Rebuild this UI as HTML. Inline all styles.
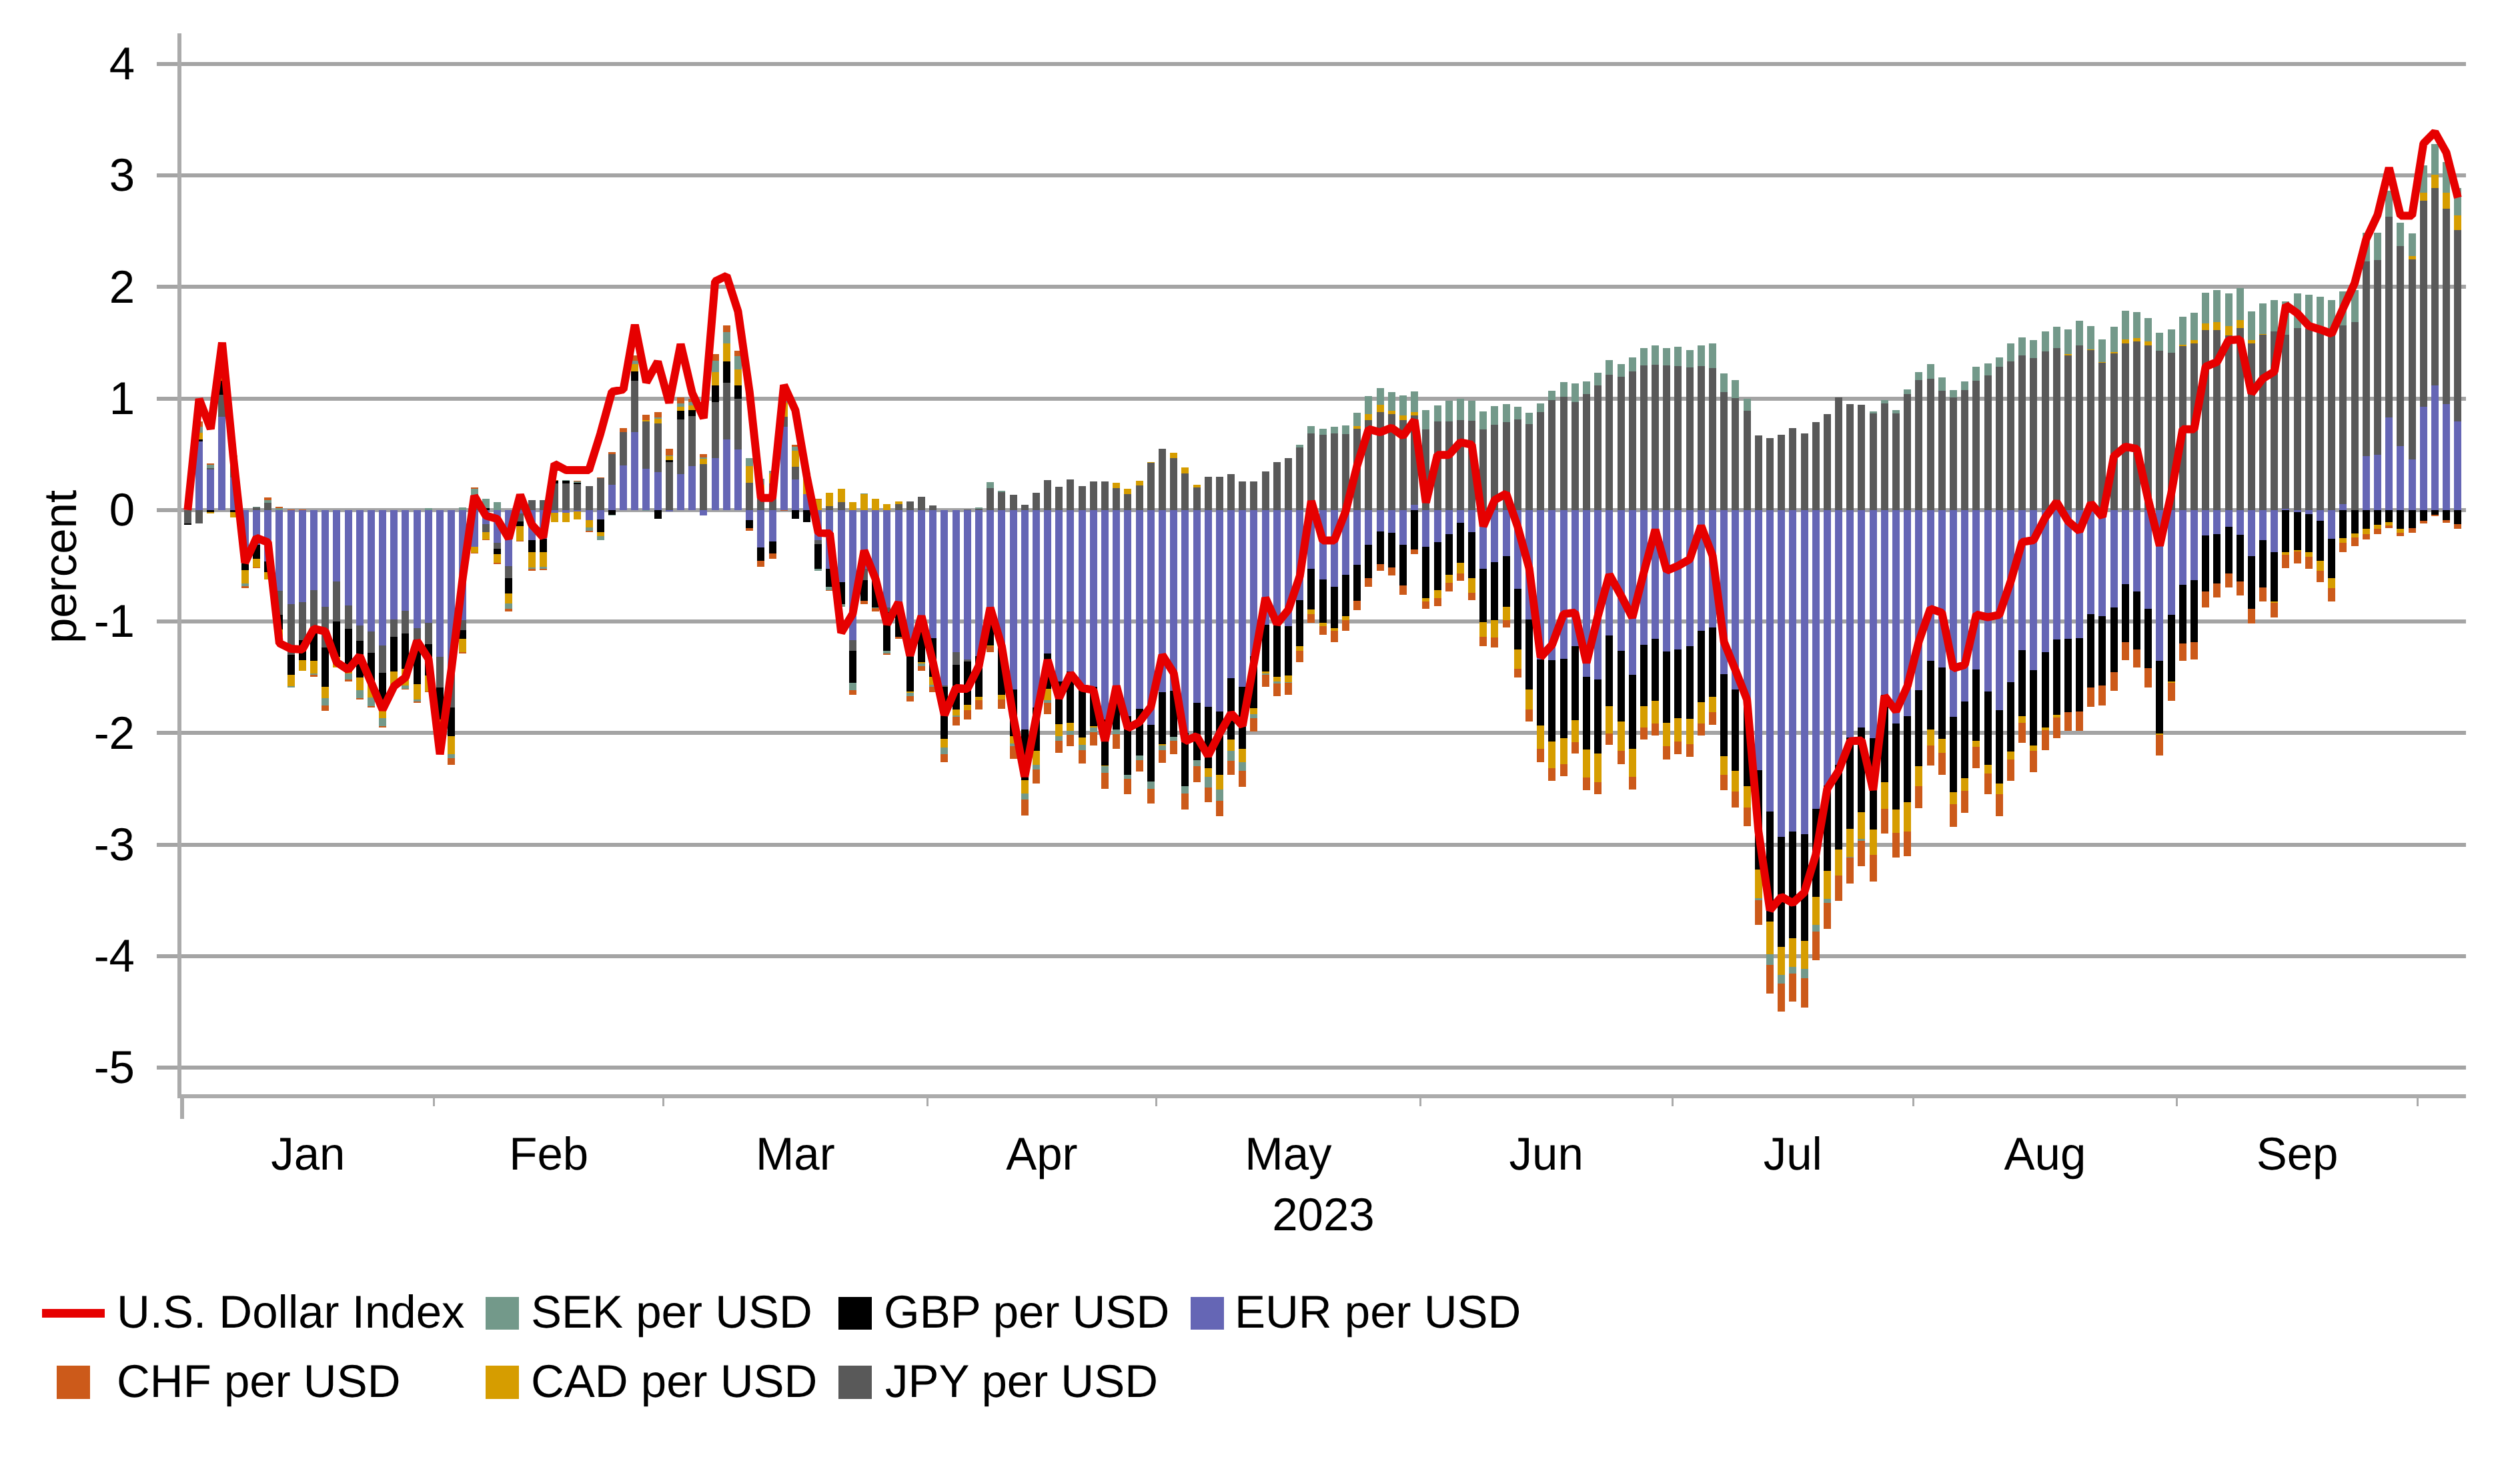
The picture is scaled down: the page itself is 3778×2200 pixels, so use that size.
<!DOCTYPE html>
<html lang="en"><head><meta charset="utf-8"><title>U.S. Dollar Index contributions, 2023</title>
<style>html,body{margin:0;padding:0;background:#fff}svg{display:block}</style></head>
<body>
<svg width="3778" height="2200" viewBox="0 0 3778 2200" shape-rendering="crispEdges">
<rect width="3778" height="2200" fill="#fff"/>
<g stroke="#a4a4a4" stroke-width="6">
<line x1="235" x2="3697" y1="1601.1" y2="1601.1"/>
<line x1="235" x2="3697" y1="1433.8" y2="1433.8"/>
<line x1="235" x2="3697" y1="1266.6" y2="1266.6"/>
<line x1="235" x2="3697" y1="1099.3" y2="1099.3"/>
<line x1="235" x2="3697" y1="932.1" y2="932.1"/>
<line x1="235" x2="3697" y1="764.8" y2="764.8"/>
<line x1="235" x2="3697" y1="597.5" y2="597.5"/>
<line x1="235" x2="3697" y1="430.3" y2="430.3"/>
<line x1="235" x2="3697" y1="263.0" y2="263.0"/>
<line x1="235" x2="3697" y1="95.8" y2="95.8"/>
</g>
<g stroke="#ababab" stroke-width="6">
<line x1="269" x2="269" y1="50" y2="1646.9"/>
<line x1="266" x2="3697" y1="1643.9" y2="1643.9"/>
</g>
<line x1="273" x2="273" y1="1646" y2="1678" stroke="#ababab" stroke-width="6"/>
<g stroke="#ababab" stroke-width="3">
<line x1="650.9" x2="650.9" y1="1646" y2="1659"/>
<line x1="994.6" x2="994.6" y1="1646" y2="1659"/>
<line x1="1390.0" x2="1390.0" y1="1646" y2="1659"/>
<line x1="1733.8" x2="1733.8" y1="1646" y2="1659"/>
<line x1="2129.1" x2="2129.1" y1="1646" y2="1659"/>
<line x1="2507.3" x2="2507.3" y1="1646" y2="1659"/>
<line x1="2868.2" x2="2868.2" y1="1646" y2="1659"/>
<line x1="3263.6" x2="3263.6" y1="1646" y2="1659"/>
<line x1="3624.6" x2="3624.6" y1="1646" y2="1659"/>
</g>
<g fill="#6566b5">
<rect x="293" y="662" width="11" height="103"/>
<rect x="310" y="704" width="11" height="61"/>
<rect x="327" y="625" width="11" height="140"/>
<rect x="345" y="716" width="11" height="49"/>
<rect x="362" y="765" width="11" height="80"/>
<rect x="379" y="765" width="11" height="52"/>
<rect x="396" y="765" width="11" height="77"/>
<rect x="413" y="765" width="11" height="121"/>
<rect x="431" y="765" width="11" height="141"/>
<rect x="448" y="765" width="11" height="138"/>
<rect x="465" y="765" width="11" height="120"/>
<rect x="482" y="765" width="11" height="145"/>
<rect x="499" y="765" width="11" height="107"/>
<rect x="517" y="765" width="11" height="143"/>
<rect x="534" y="765" width="11" height="173"/>
<rect x="551" y="765" width="11" height="182"/>
<rect x="568" y="765" width="11" height="203"/>
<rect x="585" y="765" width="11" height="164"/>
<rect x="602" y="765" width="11" height="151"/>
<rect x="620" y="765" width="11" height="177"/>
<rect x="637" y="765" width="11" height="169"/>
<rect x="654" y="765" width="11" height="220"/>
<rect x="671" y="765" width="11" height="235"/>
<rect x="688" y="765" width="11" height="165"/>
<rect x="706" y="765" width="11" height="55"/>
<rect x="723" y="765" width="11" height="21"/>
<rect x="740" y="765" width="11" height="49"/>
<rect x="757" y="765" width="11" height="84"/>
<rect x="774" y="765" width="11" height="5"/>
<rect x="792" y="765" width="11" height="45"/>
<rect x="809" y="765" width="11" height="43"/>
<rect x="826" y="765" width="11" height="4"/>
<rect x="843" y="765" width="11" height="4"/>
<rect x="860" y="765" width="11" height="2"/>
<rect x="878" y="765" width="11" height="15"/>
<rect x="895" y="765" width="11" height="14"/>
<rect x="912" y="727" width="11" height="38"/>
<rect x="929" y="698" width="11" height="67"/>
<rect x="946" y="648" width="11" height="117"/>
<rect x="963" y="703" width="11" height="62"/>
<rect x="981" y="708" width="11" height="57"/>
<rect x="998" y="765" width="11" height="2"/>
<rect x="1015" y="711" width="11" height="54"/>
<rect x="1032" y="699" width="11" height="66"/>
<rect x="1049" y="765" width="11" height="8"/>
<rect x="1067" y="687" width="11" height="78"/>
<rect x="1084" y="659" width="11" height="106"/>
<rect x="1101" y="674" width="11" height="91"/>
<rect x="1118" y="765" width="11" height="15"/>
<rect x="1135" y="765" width="11" height="56"/>
<rect x="1153" y="765" width="11" height="47"/>
<rect x="1170" y="640" width="11" height="125"/>
<rect x="1187" y="719" width="11" height="46"/>
<rect x="1204" y="741" width="11" height="24"/>
<rect x="1221" y="765" width="11" height="45"/>
<rect x="1238" y="765" width="11" height="88"/>
<rect x="1256" y="765" width="11" height="108"/>
<rect x="1273" y="765" width="11" height="195"/>
<rect x="1290" y="765" width="11" height="88"/>
<rect x="1307" y="765" width="11" height="104"/>
<rect x="1324" y="765" width="11" height="146"/>
<rect x="1342" y="765" width="11" height="137"/>
<rect x="1359" y="765" width="11" height="214"/>
<rect x="1376" y="765" width="11" height="172"/>
<rect x="1393" y="765" width="11" height="192"/>
<rect x="1410" y="765" width="11" height="263"/>
<rect x="1428" y="765" width="11" height="213"/>
<rect x="1445" y="765" width="11" height="224"/>
<rect x="1462" y="765" width="11" height="219"/>
<rect x="1479" y="765" width="11" height="146"/>
<rect x="1496" y="765" width="11" height="207"/>
<rect x="1514" y="765" width="11" height="269"/>
<rect x="1531" y="765" width="11" height="329"/>
<rect x="1548" y="765" width="11" height="296"/>
<rect x="1565" y="765" width="11" height="215"/>
<rect x="1582" y="765" width="11" height="257"/>
<rect x="1599" y="765" width="11" height="242"/>
<rect x="1617" y="765" width="11" height="267"/>
<rect x="1634" y="765" width="11" height="265"/>
<rect x="1651" y="765" width="11" height="314"/>
<rect x="1668" y="765" width="11" height="264"/>
<rect x="1685" y="765" width="11" height="309"/>
<rect x="1703" y="765" width="11" height="298"/>
<rect x="1720" y="765" width="11" height="322"/>
<rect x="1737" y="765" width="11" height="273"/>
<rect x="1754" y="765" width="11" height="271"/>
<rect x="1771" y="765" width="11" height="334"/>
<rect x="1789" y="765" width="11" height="289"/>
<rect x="1806" y="765" width="11" height="295"/>
<rect x="1823" y="765" width="11" height="302"/>
<rect x="1840" y="765" width="11" height="252"/>
<rect x="1857" y="765" width="11" height="265"/>
<rect x="1874" y="765" width="11" height="219"/>
<rect x="1892" y="765" width="11" height="172"/>
<rect x="1909" y="765" width="11" height="173"/>
<rect x="1926" y="765" width="11" height="174"/>
<rect x="1943" y="765" width="11" height="135"/>
<rect x="1960" y="765" width="11" height="88"/>
<rect x="1978" y="765" width="11" height="104"/>
<rect x="1995" y="765" width="11" height="115"/>
<rect x="2012" y="765" width="11" height="97"/>
<rect x="2029" y="765" width="11" height="82"/>
<rect x="2046" y="765" width="11" height="52"/>
<rect x="2064" y="765" width="11" height="32"/>
<rect x="2081" y="765" width="11" height="34"/>
<rect x="2098" y="765" width="11" height="52"/>
<rect x="2115" y="757" width="11" height="8"/>
<rect x="2132" y="765" width="11" height="55"/>
<rect x="2150" y="765" width="11" height="48"/>
<rect x="2167" y="765" width="11" height="36"/>
<rect x="2184" y="765" width="11" height="19"/>
<rect x="2201" y="765" width="11" height="33"/>
<rect x="2218" y="765" width="11" height="88"/>
<rect x="2235" y="765" width="11" height="78"/>
<rect x="2253" y="765" width="11" height="69"/>
<rect x="2270" y="765" width="11" height="118"/>
<rect x="2287" y="765" width="11" height="164"/>
<rect x="2304" y="765" width="11" height="224"/>
<rect x="2321" y="765" width="11" height="225"/>
<rect x="2339" y="765" width="11" height="223"/>
<rect x="2356" y="765" width="11" height="204"/>
<rect x="2373" y="765" width="11" height="250"/>
<rect x="2390" y="765" width="11" height="254"/>
<rect x="2407" y="765" width="11" height="188"/>
<rect x="2425" y="765" width="11" height="211"/>
<rect x="2442" y="765" width="11" height="247"/>
<rect x="2459" y="765" width="11" height="202"/>
<rect x="2476" y="765" width="11" height="193"/>
<rect x="2493" y="765" width="11" height="212"/>
<rect x="2510" y="765" width="11" height="209"/>
<rect x="2528" y="765" width="11" height="204"/>
<rect x="2545" y="765" width="11" height="181"/>
<rect x="2562" y="765" width="11" height="176"/>
<rect x="2579" y="765" width="11" height="246"/>
<rect x="2596" y="765" width="11" height="269"/>
<rect x="2614" y="765" width="11" height="291"/>
<rect x="2631" y="765" width="11" height="390"/>
<rect x="2648" y="765" width="11" height="452"/>
<rect x="2665" y="765" width="11" height="490"/>
<rect x="2682" y="765" width="11" height="482"/>
<rect x="2700" y="765" width="11" height="486"/>
<rect x="2717" y="765" width="11" height="448"/>
<rect x="2734" y="765" width="11" height="413"/>
<rect x="2751" y="765" width="11" height="382"/>
<rect x="2768" y="765" width="11" height="341"/>
<rect x="2785" y="765" width="11" height="326"/>
<rect x="2803" y="765" width="11" height="342"/>
<rect x="2820" y="765" width="11" height="277"/>
<rect x="2837" y="765" width="11" height="320"/>
<rect x="2854" y="765" width="11" height="309"/>
<rect x="2871" y="765" width="11" height="270"/>
<rect x="2889" y="765" width="11" height="226"/>
<rect x="2906" y="765" width="11" height="236"/>
<rect x="2923" y="765" width="11" height="310"/>
<rect x="2940" y="765" width="11" height="287"/>
<rect x="2957" y="765" width="11" height="239"/>
<rect x="2975" y="765" width="11" height="272"/>
<rect x="2992" y="765" width="11" height="300"/>
<rect x="3009" y="765" width="11" height="258"/>
<rect x="3026" y="765" width="11" height="210"/>
<rect x="3043" y="765" width="11" height="240"/>
<rect x="3061" y="765" width="11" height="213"/>
<rect x="3078" y="765" width="11" height="194"/>
<rect x="3095" y="765" width="11" height="193"/>
<rect x="3112" y="765" width="11" height="192"/>
<rect x="3129" y="765" width="11" height="156"/>
<rect x="3146" y="765" width="11" height="159"/>
<rect x="3164" y="765" width="11" height="146"/>
<rect x="3181" y="765" width="11" height="111"/>
<rect x="3198" y="765" width="11" height="122"/>
<rect x="3215" y="765" width="11" height="148"/>
<rect x="3232" y="765" width="11" height="226"/>
<rect x="3250" y="765" width="11" height="157"/>
<rect x="3267" y="765" width="11" height="112"/>
<rect x="3284" y="765" width="11" height="105"/>
<rect x="3301" y="765" width="11" height="38"/>
<rect x="3318" y="765" width="11" height="36"/>
<rect x="3336" y="765" width="11" height="25"/>
<rect x="3353" y="765" width="11" height="37"/>
<rect x="3370" y="765" width="11" height="69"/>
<rect x="3387" y="765" width="11" height="45"/>
<rect x="3404" y="765" width="11" height="63"/>
<rect x="3421" y="763" width="11" height="2"/>
<rect x="3439" y="765" width="11" height="3"/>
<rect x="3456" y="765" width="11" height="6"/>
<rect x="3473" y="765" width="11" height="16"/>
<rect x="3490" y="765" width="11" height="43"/>
<rect x="3507" y="756" width="11" height="9"/>
<rect x="3542" y="684" width="11" height="81"/>
<rect x="3559" y="682" width="11" height="83"/>
<rect x="3576" y="626" width="11" height="139"/>
<rect x="3593" y="669" width="11" height="96"/>
<rect x="3611" y="689" width="11" height="76"/>
<rect x="3628" y="610" width="11" height="155"/>
<rect x="3645" y="578" width="11" height="187"/>
<rect x="3662" y="606" width="11" height="159"/>
<rect x="3679" y="632" width="11" height="133"/>
</g>
<g fill="#595959">
<rect x="276" y="765" width="11" height="20"/>
<rect x="293" y="765" width="11" height="20"/>
<rect x="310" y="702" width="11" height="2"/>
<rect x="327" y="592" width="11" height="33"/>
<rect x="345" y="698" width="11" height="18"/>
<rect x="379" y="761" width="11" height="4"/>
<rect x="396" y="754" width="11" height="11"/>
<rect x="413" y="886" width="11" height="36"/>
<rect x="431" y="906" width="11" height="76"/>
<rect x="448" y="903" width="11" height="57"/>
<rect x="465" y="885" width="11" height="64"/>
<rect x="482" y="910" width="11" height="61"/>
<rect x="499" y="872" width="11" height="60"/>
<rect x="517" y="908" width="11" height="35"/>
<rect x="534" y="938" width="11" height="23"/>
<rect x="551" y="947" width="11" height="32"/>
<rect x="568" y="968" width="11" height="41"/>
<rect x="585" y="929" width="11" height="26"/>
<rect x="602" y="916" width="11" height="34"/>
<rect x="620" y="942" width="11" height="17"/>
<rect x="637" y="934" width="11" height="32"/>
<rect x="654" y="985" width="11" height="46"/>
<rect x="671" y="1000" width="11" height="61"/>
<rect x="688" y="930" width="11" height="15"/>
<rect x="706" y="743" width="11" height="22"/>
<rect x="723" y="786" width="11" height="12"/>
<rect x="740" y="814" width="11" height="9"/>
<rect x="757" y="849" width="11" height="18"/>
<rect x="774" y="756" width="11" height="9"/>
<rect x="774" y="770" width="11" height="12"/>
<rect x="792" y="750" width="11" height="15"/>
<rect x="809" y="750" width="11" height="15"/>
<rect x="826" y="725" width="11" height="40"/>
<rect x="843" y="725" width="11" height="40"/>
<rect x="860" y="726" width="11" height="39"/>
<rect x="878" y="729" width="11" height="36"/>
<rect x="895" y="717" width="11" height="48"/>
<rect x="912" y="681" width="11" height="46"/>
<rect x="929" y="648" width="11" height="50"/>
<rect x="946" y="571" width="11" height="77"/>
<rect x="963" y="632" width="11" height="71"/>
<rect x="981" y="635" width="11" height="73"/>
<rect x="998" y="693" width="11" height="72"/>
<rect x="1015" y="629" width="11" height="82"/>
<rect x="1032" y="624" width="11" height="75"/>
<rect x="1049" y="696" width="11" height="69"/>
<rect x="1067" y="603" width="11" height="84"/>
<rect x="1084" y="574" width="11" height="85"/>
<rect x="1101" y="598" width="11" height="76"/>
<rect x="1118" y="724" width="11" height="41"/>
<rect x="1135" y="737" width="11" height="28"/>
<rect x="1153" y="725" width="11" height="40"/>
<rect x="1170" y="625" width="11" height="15"/>
<rect x="1187" y="700" width="11" height="19"/>
<rect x="1221" y="810" width="11" height="6"/>
<rect x="1238" y="759" width="11" height="6"/>
<rect x="1256" y="753" width="11" height="12"/>
<rect x="1273" y="960" width="11" height="16"/>
<rect x="1290" y="853" width="11" height="17"/>
<rect x="1324" y="911" width="11" height="7"/>
<rect x="1342" y="756" width="11" height="9"/>
<rect x="1359" y="752" width="11" height="13"/>
<rect x="1376" y="745" width="11" height="20"/>
<rect x="1393" y="758" width="11" height="7"/>
<rect x="1410" y="1028" width="11" height="2"/>
<rect x="1428" y="978" width="11" height="19"/>
<rect x="1445" y="764" width="11" height="1"/>
<rect x="1445" y="989" width="11" height="3"/>
<rect x="1462" y="763" width="11" height="2"/>
<rect x="1479" y="732" width="11" height="33"/>
<rect x="1496" y="738" width="11" height="27"/>
<rect x="1514" y="742" width="11" height="23"/>
<rect x="1531" y="757" width="11" height="8"/>
<rect x="1548" y="739" width="11" height="26"/>
<rect x="1565" y="720" width="11" height="45"/>
<rect x="1582" y="730" width="11" height="35"/>
<rect x="1599" y="719" width="11" height="46"/>
<rect x="1617" y="729" width="11" height="36"/>
<rect x="1634" y="722" width="11" height="43"/>
<rect x="1651" y="722" width="11" height="43"/>
<rect x="1668" y="732" width="11" height="33"/>
<rect x="1685" y="741" width="11" height="24"/>
<rect x="1703" y="728" width="11" height="37"/>
<rect x="1720" y="694" width="11" height="71"/>
<rect x="1737" y="673" width="11" height="92"/>
<rect x="1754" y="687" width="11" height="78"/>
<rect x="1771" y="710" width="11" height="55"/>
<rect x="1789" y="731" width="11" height="34"/>
<rect x="1806" y="715" width="11" height="50"/>
<rect x="1823" y="715" width="11" height="50"/>
<rect x="1840" y="711" width="11" height="54"/>
<rect x="1857" y="722" width="11" height="43"/>
<rect x="1874" y="722" width="11" height="43"/>
<rect x="1892" y="707" width="11" height="58"/>
<rect x="1909" y="693" width="11" height="72"/>
<rect x="1926" y="687" width="11" height="78"/>
<rect x="1943" y="671" width="11" height="94"/>
<rect x="1960" y="650" width="11" height="115"/>
<rect x="1978" y="652" width="11" height="113"/>
<rect x="1995" y="650" width="11" height="115"/>
<rect x="2012" y="651" width="11" height="114"/>
<rect x="2029" y="643" width="11" height="122"/>
<rect x="2046" y="630" width="11" height="135"/>
<rect x="2064" y="618" width="11" height="147"/>
<rect x="2081" y="621" width="11" height="144"/>
<rect x="2098" y="630" width="11" height="135"/>
<rect x="2115" y="623" width="11" height="134"/>
<rect x="2132" y="644" width="11" height="121"/>
<rect x="2150" y="632" width="11" height="133"/>
<rect x="2167" y="632" width="11" height="133"/>
<rect x="2184" y="630" width="11" height="135"/>
<rect x="2201" y="631" width="11" height="134"/>
<rect x="2218" y="644" width="11" height="121"/>
<rect x="2235" y="637" width="11" height="128"/>
<rect x="2253" y="633" width="11" height="132"/>
<rect x="2270" y="629" width="11" height="136"/>
<rect x="2287" y="636" width="11" height="129"/>
<rect x="2304" y="618" width="11" height="147"/>
<rect x="2321" y="600" width="11" height="165"/>
<rect x="2339" y="595" width="11" height="170"/>
<rect x="2356" y="603" width="11" height="162"/>
<rect x="2373" y="591" width="11" height="174"/>
<rect x="2390" y="578" width="11" height="187"/>
<rect x="2407" y="562" width="11" height="203"/>
<rect x="2425" y="565" width="11" height="200"/>
<rect x="2442" y="557" width="11" height="208"/>
<rect x="2459" y="548" width="11" height="217"/>
<rect x="2476" y="547" width="11" height="218"/>
<rect x="2493" y="548" width="11" height="217"/>
<rect x="2510" y="549" width="11" height="216"/>
<rect x="2528" y="551" width="11" height="214"/>
<rect x="2545" y="549" width="11" height="216"/>
<rect x="2562" y="552" width="11" height="213"/>
<rect x="2579" y="588" width="11" height="177"/>
<rect x="2596" y="597" width="11" height="168"/>
<rect x="2614" y="616" width="11" height="149"/>
<rect x="2631" y="653" width="11" height="112"/>
<rect x="2648" y="657" width="11" height="108"/>
<rect x="2665" y="652" width="11" height="113"/>
<rect x="2682" y="642" width="11" height="123"/>
<rect x="2700" y="650" width="11" height="115"/>
<rect x="2717" y="633" width="11" height="132"/>
<rect x="2734" y="621" width="11" height="144"/>
<rect x="2751" y="596" width="11" height="169"/>
<rect x="2768" y="606" width="11" height="159"/>
<rect x="2785" y="607" width="11" height="158"/>
<rect x="2803" y="620" width="11" height="145"/>
<rect x="2820" y="605" width="11" height="160"/>
<rect x="2837" y="620" width="11" height="145"/>
<rect x="2854" y="591" width="11" height="174"/>
<rect x="2871" y="570" width="11" height="195"/>
<rect x="2889" y="568" width="11" height="197"/>
<rect x="2906" y="586" width="11" height="179"/>
<rect x="2923" y="596" width="11" height="169"/>
<rect x="2940" y="585" width="11" height="180"/>
<rect x="2957" y="571" width="11" height="194"/>
<rect x="2975" y="563" width="11" height="202"/>
<rect x="2992" y="550" width="11" height="215"/>
<rect x="3009" y="542" width="11" height="223"/>
<rect x="3026" y="533" width="11" height="232"/>
<rect x="3043" y="537" width="11" height="228"/>
<rect x="3061" y="527" width="11" height="238"/>
<rect x="3078" y="522" width="11" height="243"/>
<rect x="3095" y="533" width="11" height="232"/>
<rect x="3112" y="518" width="11" height="247"/>
<rect x="3129" y="525" width="11" height="240"/>
<rect x="3146" y="544" width="11" height="221"/>
<rect x="3164" y="530" width="11" height="235"/>
<rect x="3181" y="515" width="11" height="250"/>
<rect x="3198" y="512" width="11" height="253"/>
<rect x="3215" y="518" width="11" height="247"/>
<rect x="3232" y="526" width="11" height="239"/>
<rect x="3250" y="529" width="11" height="236"/>
<rect x="3267" y="519" width="11" height="246"/>
<rect x="3284" y="515" width="11" height="250"/>
<rect x="3301" y="495" width="11" height="270"/>
<rect x="3318" y="495" width="11" height="270"/>
<rect x="3336" y="503" width="11" height="262"/>
<rect x="3353" y="492" width="11" height="273"/>
<rect x="3370" y="515" width="11" height="250"/>
<rect x="3387" y="502" width="11" height="263"/>
<rect x="3404" y="497" width="11" height="268"/>
<rect x="3421" y="502" width="11" height="261"/>
<rect x="3439" y="492" width="11" height="273"/>
<rect x="3456" y="493" width="11" height="272"/>
<rect x="3473" y="497" width="11" height="268"/>
<rect x="3490" y="499" width="11" height="266"/>
<rect x="3507" y="488" width="11" height="268"/>
<rect x="3525" y="483" width="11" height="282"/>
<rect x="3542" y="392" width="11" height="292"/>
<rect x="3559" y="390" width="11" height="292"/>
<rect x="3576" y="325" width="11" height="301"/>
<rect x="3593" y="369" width="11" height="300"/>
<rect x="3611" y="389" width="11" height="300"/>
<rect x="3628" y="301" width="11" height="309"/>
<rect x="3645" y="282" width="11" height="296"/>
<rect x="3662" y="313" width="11" height="293"/>
<rect x="3679" y="345" width="11" height="287"/>
</g>
<g fill="#000000">
<rect x="276" y="785" width="11" height="2"/>
<rect x="293" y="659" width="11" height="3"/>
<rect x="310" y="765" width="11" height="3"/>
<rect x="327" y="571" width="11" height="21"/>
<rect x="345" y="765" width="11" height="3"/>
<rect x="362" y="845" width="11" height="10"/>
<rect x="379" y="817" width="11" height="21"/>
<rect x="396" y="842" width="11" height="16"/>
<rect x="413" y="922" width="11" height="22"/>
<rect x="431" y="982" width="11" height="30"/>
<rect x="448" y="960" width="11" height="30"/>
<rect x="465" y="949" width="11" height="42"/>
<rect x="482" y="971" width="11" height="59"/>
<rect x="499" y="932" width="11" height="53"/>
<rect x="517" y="943" width="11" height="61"/>
<rect x="534" y="961" width="11" height="55"/>
<rect x="551" y="979" width="11" height="47"/>
<rect x="568" y="1009" width="11" height="55"/>
<rect x="585" y="955" width="11" height="52"/>
<rect x="602" y="950" width="11" height="53"/>
<rect x="620" y="959" width="11" height="67"/>
<rect x="637" y="966" width="11" height="47"/>
<rect x="654" y="1031" width="11" height="48"/>
<rect x="671" y="1061" width="11" height="43"/>
<rect x="688" y="945" width="11" height="13"/>
<rect x="723" y="762" width="11" height="3"/>
<rect x="740" y="823" width="11" height="8"/>
<rect x="757" y="867" width="11" height="23"/>
<rect x="774" y="782" width="11" height="7"/>
<rect x="792" y="810" width="11" height="18"/>
<rect x="809" y="808" width="11" height="20"/>
<rect x="826" y="721" width="11" height="4"/>
<rect x="843" y="721" width="11" height="4"/>
<rect x="860" y="724" width="11" height="2"/>
<rect x="895" y="779" width="11" height="19"/>
<rect x="912" y="765" width="11" height="7"/>
<rect x="946" y="557" width="11" height="14"/>
<rect x="981" y="765" width="11" height="13"/>
<rect x="998" y="690" width="11" height="3"/>
<rect x="1015" y="616" width="11" height="13"/>
<rect x="1032" y="615" width="11" height="9"/>
<rect x="1067" y="578" width="11" height="25"/>
<rect x="1084" y="542" width="11" height="32"/>
<rect x="1101" y="578" width="11" height="20"/>
<rect x="1118" y="780" width="11" height="12"/>
<rect x="1135" y="821" width="11" height="20"/>
<rect x="1153" y="812" width="11" height="18"/>
<rect x="1187" y="765" width="11" height="13"/>
<rect x="1204" y="765" width="11" height="18"/>
<rect x="1221" y="816" width="11" height="37"/>
<rect x="1238" y="853" width="11" height="27"/>
<rect x="1256" y="873" width="11" height="33"/>
<rect x="1273" y="976" width="11" height="48"/>
<rect x="1290" y="870" width="11" height="31"/>
<rect x="1307" y="869" width="11" height="42"/>
<rect x="1324" y="918" width="11" height="58"/>
<rect x="1342" y="902" width="11" height="53"/>
<rect x="1359" y="979" width="11" height="58"/>
<rect x="1376" y="937" width="11" height="56"/>
<rect x="1393" y="957" width="11" height="58"/>
<rect x="1410" y="1030" width="11" height="78"/>
<rect x="1428" y="997" width="11" height="67"/>
<rect x="1445" y="992" width="11" height="65"/>
<rect x="1462" y="984" width="11" height="61"/>
<rect x="1479" y="911" width="11" height="57"/>
<rect x="1496" y="972" width="11" height="70"/>
<rect x="1514" y="1034" width="11" height="70"/>
<rect x="1531" y="1094" width="11" height="76"/>
<rect x="1548" y="1061" width="11" height="65"/>
<rect x="1565" y="980" width="11" height="53"/>
<rect x="1582" y="1022" width="11" height="64"/>
<rect x="1599" y="1007" width="11" height="77"/>
<rect x="1617" y="1032" width="11" height="74"/>
<rect x="1634" y="1030" width="11" height="59"/>
<rect x="1651" y="1079" width="11" height="69"/>
<rect x="1668" y="1029" width="11" height="65"/>
<rect x="1685" y="1074" width="11" height="88"/>
<rect x="1703" y="1063" width="11" height="70"/>
<rect x="1720" y="1087" width="11" height="85"/>
<rect x="1737" y="1038" width="11" height="78"/>
<rect x="1754" y="1036" width="11" height="69"/>
<rect x="1771" y="1099" width="11" height="80"/>
<rect x="1789" y="1054" width="11" height="86"/>
<rect x="1806" y="1060" width="11" height="92"/>
<rect x="1823" y="1067" width="11" height="95"/>
<rect x="1840" y="1017" width="11" height="92"/>
<rect x="1857" y="1030" width="11" height="93"/>
<rect x="1874" y="984" width="11" height="78"/>
<rect x="1892" y="937" width="11" height="70"/>
<rect x="1909" y="938" width="11" height="77"/>
<rect x="1926" y="939" width="11" height="74"/>
<rect x="1943" y="900" width="11" height="69"/>
<rect x="1960" y="853" width="11" height="61"/>
<rect x="1978" y="869" width="11" height="65"/>
<rect x="1995" y="880" width="11" height="62"/>
<rect x="2012" y="862" width="11" height="62"/>
<rect x="2029" y="847" width="11" height="54"/>
<rect x="2046" y="817" width="11" height="50"/>
<rect x="2064" y="797" width="11" height="49"/>
<rect x="2081" y="799" width="11" height="52"/>
<rect x="2098" y="817" width="11" height="61"/>
<rect x="2115" y="765" width="11" height="59"/>
<rect x="2132" y="820" width="11" height="77"/>
<rect x="2150" y="813" width="11" height="72"/>
<rect x="2167" y="801" width="11" height="61"/>
<rect x="2184" y="784" width="11" height="60"/>
<rect x="2201" y="798" width="11" height="69"/>
<rect x="2218" y="853" width="11" height="80"/>
<rect x="2235" y="843" width="11" height="87"/>
<rect x="2253" y="834" width="11" height="76"/>
<rect x="2270" y="883" width="11" height="91"/>
<rect x="2287" y="929" width="11" height="105"/>
<rect x="2304" y="989" width="11" height="99"/>
<rect x="2321" y="990" width="11" height="122"/>
<rect x="2339" y="988" width="11" height="119"/>
<rect x="2356" y="969" width="11" height="111"/>
<rect x="2373" y="1015" width="11" height="109"/>
<rect x="2390" y="1019" width="11" height="111"/>
<rect x="2407" y="953" width="11" height="106"/>
<rect x="2425" y="976" width="11" height="106"/>
<rect x="2442" y="1012" width="11" height="111"/>
<rect x="2459" y="967" width="11" height="92"/>
<rect x="2476" y="958" width="11" height="93"/>
<rect x="2493" y="977" width="11" height="107"/>
<rect x="2510" y="974" width="11" height="103"/>
<rect x="2528" y="969" width="11" height="109"/>
<rect x="2545" y="946" width="11" height="107"/>
<rect x="2562" y="941" width="11" height="104"/>
<rect x="2579" y="1011" width="11" height="123"/>
<rect x="2596" y="1034" width="11" height="122"/>
<rect x="2614" y="1056" width="11" height="123"/>
<rect x="2631" y="1155" width="11" height="149"/>
<rect x="2648" y="1217" width="11" height="165"/>
<rect x="2665" y="1255" width="11" height="165"/>
<rect x="2682" y="1247" width="11" height="160"/>
<rect x="2700" y="1251" width="11" height="160"/>
<rect x="2717" y="1213" width="11" height="132"/>
<rect x="2734" y="1178" width="11" height="128"/>
<rect x="2751" y="1147" width="11" height="127"/>
<rect x="2768" y="1106" width="11" height="137"/>
<rect x="2785" y="1091" width="11" height="127"/>
<rect x="2803" y="1107" width="11" height="137"/>
<rect x="2820" y="1042" width="11" height="131"/>
<rect x="2837" y="1085" width="11" height="129"/>
<rect x="2854" y="1074" width="11" height="129"/>
<rect x="2871" y="1035" width="11" height="114"/>
<rect x="2889" y="991" width="11" height="103"/>
<rect x="2906" y="1001" width="11" height="107"/>
<rect x="2923" y="1075" width="11" height="113"/>
<rect x="2940" y="1052" width="11" height="115"/>
<rect x="2957" y="1004" width="11" height="107"/>
<rect x="2975" y="1037" width="11" height="110"/>
<rect x="2992" y="1065" width="11" height="110"/>
<rect x="3009" y="1023" width="11" height="104"/>
<rect x="3026" y="975" width="11" height="99"/>
<rect x="3043" y="1005" width="11" height="113"/>
<rect x="3061" y="978" width="11" height="113"/>
<rect x="3078" y="959" width="11" height="113"/>
<rect x="3095" y="958" width="11" height="110"/>
<rect x="3112" y="957" width="11" height="110"/>
<rect x="3129" y="921" width="11" height="110"/>
<rect x="3146" y="924" width="11" height="104"/>
<rect x="3164" y="911" width="11" height="97"/>
<rect x="3181" y="876" width="11" height="87"/>
<rect x="3198" y="887" width="11" height="87"/>
<rect x="3215" y="913" width="11" height="89"/>
<rect x="3232" y="991" width="11" height="109"/>
<rect x="3250" y="922" width="11" height="100"/>
<rect x="3267" y="877" width="11" height="88"/>
<rect x="3284" y="870" width="11" height="93"/>
<rect x="3301" y="803" width="11" height="84"/>
<rect x="3318" y="801" width="11" height="74"/>
<rect x="3336" y="790" width="11" height="70"/>
<rect x="3353" y="802" width="11" height="70"/>
<rect x="3370" y="834" width="11" height="79"/>
<rect x="3387" y="810" width="11" height="71"/>
<rect x="3404" y="828" width="11" height="74"/>
<rect x="3421" y="765" width="11" height="63"/>
<rect x="3439" y="768" width="11" height="57"/>
<rect x="3456" y="771" width="11" height="57"/>
<rect x="3473" y="781" width="11" height="60"/>
<rect x="3490" y="808" width="11" height="59"/>
<rect x="3507" y="765" width="11" height="42"/>
<rect x="3525" y="765" width="11" height="35"/>
<rect x="3542" y="765" width="11" height="28"/>
<rect x="3559" y="765" width="11" height="22"/>
<rect x="3576" y="765" width="11" height="18"/>
<rect x="3593" y="765" width="11" height="28"/>
<rect x="3611" y="765" width="11" height="27"/>
<rect x="3628" y="765" width="11" height="16"/>
<rect x="3645" y="765" width="11" height="7"/>
<rect x="3662" y="765" width="11" height="15"/>
<rect x="3679" y="765" width="11" height="21"/>
</g>
<g fill="#d69d00">
<rect x="293" y="649" width="11" height="10"/>
<rect x="310" y="768" width="11" height="2"/>
<rect x="327" y="556" width="11" height="15"/>
<rect x="345" y="683" width="11" height="15"/>
<rect x="345" y="768" width="11" height="8"/>
<rect x="362" y="855" width="11" height="20"/>
<rect x="379" y="838" width="11" height="13"/>
<rect x="396" y="858" width="11" height="11"/>
<rect x="413" y="944" width="11" height="11"/>
<rect x="431" y="1012" width="11" height="17"/>
<rect x="448" y="990" width="11" height="16"/>
<rect x="465" y="991" width="11" height="19"/>
<rect x="482" y="1030" width="11" height="17"/>
<rect x="499" y="985" width="11" height="16"/>
<rect x="517" y="1004" width="11" height="6"/>
<rect x="534" y="1016" width="11" height="19"/>
<rect x="551" y="1026" width="11" height="20"/>
<rect x="568" y="1064" width="11" height="13"/>
<rect x="585" y="1007" width="11" height="22"/>
<rect x="602" y="1003" width="11" height="25"/>
<rect x="620" y="1026" width="11" height="23"/>
<rect x="637" y="1013" width="11" height="24"/>
<rect x="654" y="1079" width="11" height="20"/>
<rect x="671" y="1104" width="11" height="27"/>
<rect x="688" y="958" width="11" height="20"/>
<rect x="706" y="820" width="11" height="9"/>
<rect x="723" y="798" width="11" height="11"/>
<rect x="740" y="831" width="11" height="13"/>
<rect x="757" y="890" width="11" height="15"/>
<rect x="774" y="789" width="11" height="22"/>
<rect x="792" y="828" width="11" height="23"/>
<rect x="809" y="828" width="11" height="22"/>
<rect x="826" y="769" width="11" height="14"/>
<rect x="843" y="769" width="11" height="14"/>
<rect x="860" y="767" width="11" height="12"/>
<rect x="878" y="780" width="11" height="11"/>
<rect x="895" y="798" width="11" height="6"/>
<rect x="946" y="546" width="11" height="11"/>
<rect x="963" y="630" width="11" height="2"/>
<rect x="981" y="628" width="11" height="7"/>
<rect x="998" y="684" width="11" height="6"/>
<rect x="1015" y="610" width="11" height="6"/>
<rect x="1032" y="608" width="11" height="7"/>
<rect x="1049" y="688" width="11" height="8"/>
<rect x="1067" y="558" width="11" height="20"/>
<rect x="1084" y="515" width="11" height="27"/>
<rect x="1101" y="554" width="11" height="24"/>
<rect x="1118" y="699" width="11" height="25"/>
<rect x="1135" y="727" width="11" height="10"/>
<rect x="1153" y="710" width="11" height="15"/>
<rect x="1170" y="604" width="11" height="21"/>
<rect x="1187" y="676" width="11" height="24"/>
<rect x="1204" y="716" width="11" height="25"/>
<rect x="1221" y="749" width="11" height="16"/>
<rect x="1238" y="739" width="11" height="20"/>
<rect x="1256" y="733" width="11" height="20"/>
<rect x="1273" y="753" width="11" height="12"/>
<rect x="1290" y="741" width="11" height="24"/>
<rect x="1307" y="748" width="11" height="17"/>
<rect x="1324" y="756" width="11" height="9"/>
<rect x="1342" y="752" width="11" height="4"/>
<rect x="1359" y="1037" width="11" height="2"/>
<rect x="1376" y="993" width="11" height="2"/>
<rect x="1393" y="1015" width="11" height="12"/>
<rect x="1410" y="1108" width="11" height="13"/>
<rect x="1428" y="1064" width="11" height="9"/>
<rect x="1445" y="1057" width="11" height="8"/>
<rect x="1462" y="1045" width="11" height="5"/>
<rect x="1479" y="968" width="11" height="1"/>
<rect x="1496" y="1042" width="11" height="7"/>
<rect x="1514" y="1104" width="11" height="11"/>
<rect x="1531" y="1170" width="11" height="20"/>
<rect x="1548" y="1126" width="11" height="21"/>
<rect x="1565" y="1033" width="11" height="17"/>
<rect x="1582" y="1086" width="11" height="18"/>
<rect x="1599" y="1084" width="11" height="12"/>
<rect x="1617" y="1106" width="11" height="11"/>
<rect x="1634" y="1089" width="11" height="2"/>
<rect x="1651" y="1148" width="11" height="1"/>
<rect x="1668" y="724" width="11" height="8"/>
<rect x="1685" y="733" width="11" height="8"/>
<rect x="1703" y="721" width="11" height="7"/>
<rect x="1720" y="693" width="11" height="1"/>
<rect x="1737" y="1116" width="11" height="2"/>
<rect x="1754" y="679" width="11" height="8"/>
<rect x="1771" y="701" width="11" height="9"/>
<rect x="1789" y="727" width="11" height="4"/>
<rect x="1806" y="1152" width="11" height="13"/>
<rect x="1823" y="1162" width="11" height="22"/>
<rect x="1840" y="1109" width="11" height="17"/>
<rect x="1857" y="1123" width="11" height="20"/>
<rect x="1874" y="1062" width="11" height="9"/>
<rect x="1892" y="1007" width="11" height="3"/>
<rect x="1909" y="1015" width="11" height="7"/>
<rect x="1926" y="1013" width="11" height="10"/>
<rect x="1943" y="969" width="11" height="7"/>
<rect x="1960" y="914" width="11" height="7"/>
<rect x="1978" y="934" width="11" height="5"/>
<rect x="1995" y="942" width="11" height="4"/>
<rect x="2012" y="924" width="11" height="6"/>
<rect x="2029" y="639" width="11" height="4"/>
<rect x="2046" y="621" width="11" height="9"/>
<rect x="2064" y="607" width="11" height="11"/>
<rect x="2081" y="616" width="11" height="5"/>
<rect x="2098" y="623" width="11" height="7"/>
<rect x="2115" y="618" width="11" height="5"/>
<rect x="2132" y="897" width="11" height="5"/>
<rect x="2150" y="885" width="11" height="12"/>
<rect x="2167" y="862" width="11" height="12"/>
<rect x="2184" y="844" width="11" height="16"/>
<rect x="2201" y="867" width="11" height="22"/>
<rect x="2218" y="933" width="11" height="22"/>
<rect x="2235" y="930" width="11" height="26"/>
<rect x="2253" y="910" width="11" height="20"/>
<rect x="2270" y="974" width="11" height="29"/>
<rect x="2287" y="1034" width="11" height="30"/>
<rect x="2304" y="1088" width="11" height="35"/>
<rect x="2321" y="1112" width="11" height="40"/>
<rect x="2339" y="1107" width="11" height="39"/>
<rect x="2356" y="1080" width="11" height="33"/>
<rect x="2373" y="1124" width="11" height="42"/>
<rect x="2390" y="1130" width="11" height="43"/>
<rect x="2407" y="1059" width="11" height="41"/>
<rect x="2425" y="1082" width="11" height="44"/>
<rect x="2442" y="1123" width="11" height="42"/>
<rect x="2459" y="1059" width="11" height="32"/>
<rect x="2476" y="1051" width="11" height="34"/>
<rect x="2493" y="1084" width="11" height="35"/>
<rect x="2510" y="1077" width="11" height="35"/>
<rect x="2528" y="1078" width="11" height="38"/>
<rect x="2545" y="1053" width="11" height="32"/>
<rect x="2562" y="1045" width="11" height="23"/>
<rect x="2579" y="1134" width="11" height="28"/>
<rect x="2596" y="1156" width="11" height="31"/>
<rect x="2614" y="1179" width="11" height="32"/>
<rect x="2631" y="1304" width="11" height="43"/>
<rect x="2648" y="1382" width="11" height="49"/>
<rect x="2665" y="1420" width="11" height="42"/>
<rect x="2682" y="1407" width="11" height="43"/>
<rect x="2700" y="1411" width="11" height="42"/>
<rect x="2717" y="1345" width="11" height="42"/>
<rect x="2734" y="1306" width="11" height="42"/>
<rect x="2751" y="1274" width="11" height="39"/>
<rect x="2768" y="1243" width="11" height="42"/>
<rect x="2785" y="1218" width="11" height="40"/>
<rect x="2803" y="1244" width="11" height="38"/>
<rect x="2820" y="1173" width="11" height="40"/>
<rect x="2837" y="1214" width="11" height="35"/>
<rect x="2854" y="1203" width="11" height="44"/>
<rect x="2871" y="1149" width="11" height="30"/>
<rect x="2889" y="1094" width="11" height="24"/>
<rect x="2906" y="1108" width="11" height="21"/>
<rect x="2923" y="1188" width="11" height="18"/>
<rect x="2940" y="1167" width="11" height="19"/>
<rect x="2957" y="1111" width="11" height="9"/>
<rect x="2975" y="1147" width="11" height="13"/>
<rect x="2992" y="1175" width="11" height="16"/>
<rect x="3009" y="1127" width="11" height="12"/>
<rect x="3026" y="1074" width="11" height="10"/>
<rect x="3043" y="1118" width="11" height="8"/>
<rect x="3061" y="1091" width="11" height="4"/>
<rect x="3078" y="1072" width="11" height="4"/>
<rect x="3095" y="531" width="11" height="2"/>
<rect x="3129" y="524" width="11" height="1"/>
<rect x="3146" y="543" width="11" height="1"/>
<rect x="3164" y="528" width="11" height="2"/>
<rect x="3181" y="509" width="11" height="6"/>
<rect x="3198" y="507" width="11" height="5"/>
<rect x="3215" y="512" width="11" height="6"/>
<rect x="3232" y="1100" width="11" height="2"/>
<rect x="3250" y="1022" width="11" height="2"/>
<rect x="3267" y="517" width="11" height="2"/>
<rect x="3284" y="510" width="11" height="5"/>
<rect x="3301" y="485" width="11" height="10"/>
<rect x="3318" y="483" width="11" height="12"/>
<rect x="3336" y="489" width="11" height="14"/>
<rect x="3353" y="480" width="11" height="12"/>
<rect x="3370" y="510" width="11" height="5"/>
<rect x="3387" y="501" width="11" height="1"/>
<rect x="3404" y="902" width="11" height="2"/>
<rect x="3421" y="828" width="11" height="4"/>
<rect x="3439" y="825" width="11" height="2"/>
<rect x="3456" y="828" width="11" height="7"/>
<rect x="3473" y="841" width="11" height="15"/>
<rect x="3490" y="867" width="11" height="15"/>
<rect x="3507" y="807" width="11" height="7"/>
<rect x="3525" y="800" width="11" height="6"/>
<rect x="3542" y="793" width="11" height="8"/>
<rect x="3559" y="787" width="11" height="6"/>
<rect x="3576" y="783" width="11" height="5"/>
<rect x="3593" y="793" width="11" height="6"/>
<rect x="3611" y="384" width="11" height="5"/>
<rect x="3628" y="289" width="11" height="12"/>
<rect x="3645" y="262" width="11" height="20"/>
<rect x="3662" y="289" width="11" height="24"/>
<rect x="3679" y="323" width="11" height="22"/>
</g>
<g fill="#73998a">
<rect x="293" y="640" width="11" height="9"/>
<rect x="310" y="697" width="11" height="5"/>
<rect x="327" y="547" width="11" height="9"/>
<rect x="362" y="875" width="11" height="4"/>
<rect x="379" y="760" width="11" height="1"/>
<rect x="396" y="750" width="11" height="4"/>
<rect x="413" y="762" width="11" height="3"/>
<rect x="431" y="1029" width="11" height="2"/>
<rect x="465" y="1010" width="11" height="2"/>
<rect x="482" y="1047" width="11" height="11"/>
<rect x="517" y="1010" width="11" height="9"/>
<rect x="534" y="1035" width="11" height="12"/>
<rect x="551" y="1046" width="11" height="13"/>
<rect x="568" y="1077" width="11" height="12"/>
<rect x="585" y="1029" width="11" height="3"/>
<rect x="602" y="1028" width="11" height="5"/>
<rect x="620" y="1049" width="11" height="3"/>
<rect x="637" y="762" width="11" height="3"/>
<rect x="654" y="1099" width="11" height="5"/>
<rect x="671" y="1131" width="11" height="6"/>
<rect x="688" y="761" width="11" height="4"/>
<rect x="706" y="733" width="11" height="10"/>
<rect x="723" y="748" width="11" height="14"/>
<rect x="740" y="753" width="11" height="12"/>
<rect x="757" y="905" width="11" height="8"/>
<rect x="792" y="851" width="11" height="2"/>
<rect x="809" y="850" width="11" height="3"/>
<rect x="843" y="720" width="11" height="1"/>
<rect x="860" y="722" width="11" height="2"/>
<rect x="878" y="791" width="11" height="5"/>
<rect x="895" y="804" width="11" height="6"/>
<rect x="912" y="772" width="11" height="1"/>
<rect x="946" y="541" width="11" height="5"/>
<rect x="963" y="765" width="11" height="1"/>
<rect x="981" y="626" width="11" height="2"/>
<rect x="998" y="683" width="11" height="1"/>
<rect x="1015" y="605" width="11" height="5"/>
<rect x="1032" y="603" width="11" height="5"/>
<rect x="1049" y="686" width="11" height="2"/>
<rect x="1067" y="541" width="11" height="17"/>
<rect x="1084" y="498" width="11" height="17"/>
<rect x="1101" y="534" width="11" height="20"/>
<rect x="1118" y="687" width="11" height="12"/>
<rect x="1135" y="718" width="11" height="9"/>
<rect x="1153" y="706" width="11" height="4"/>
<rect x="1170" y="601" width="11" height="3"/>
<rect x="1187" y="670" width="11" height="6"/>
<rect x="1204" y="711" width="11" height="5"/>
<rect x="1221" y="853" width="11" height="3"/>
<rect x="1238" y="880" width="11" height="5"/>
<rect x="1256" y="906" width="11" height="4"/>
<rect x="1273" y="1024" width="11" height="11"/>
<rect x="1290" y="740" width="11" height="1"/>
<rect x="1307" y="911" width="11" height="1"/>
<rect x="1324" y="976" width="11" height="4"/>
<rect x="1359" y="1039" width="11" height="5"/>
<rect x="1376" y="995" width="11" height="4"/>
<rect x="1393" y="1027" width="11" height="3"/>
<rect x="1410" y="1121" width="11" height="10"/>
<rect x="1428" y="1073" width="11" height="2"/>
<rect x="1462" y="761" width="11" height="2"/>
<rect x="1479" y="723" width="11" height="9"/>
<rect x="1496" y="736" width="11" height="2"/>
<rect x="1514" y="1115" width="11" height="4"/>
<rect x="1531" y="1190" width="11" height="9"/>
<rect x="1548" y="1147" width="11" height="7"/>
<rect x="1565" y="1050" width="11" height="4"/>
<rect x="1582" y="1104" width="11" height="7"/>
<rect x="1599" y="1096" width="11" height="6"/>
<rect x="1617" y="1117" width="11" height="8"/>
<rect x="1634" y="1091" width="11" height="7"/>
<rect x="1651" y="1149" width="11" height="10"/>
<rect x="1668" y="1094" width="11" height="7"/>
<rect x="1685" y="1162" width="11" height="6"/>
<rect x="1703" y="1133" width="11" height="7"/>
<rect x="1720" y="1172" width="11" height="11"/>
<rect x="1737" y="1118" width="11" height="7"/>
<rect x="1754" y="1105" width="11" height="6"/>
<rect x="1771" y="1179" width="11" height="11"/>
<rect x="1789" y="1140" width="11" height="9"/>
<rect x="1806" y="1165" width="11" height="16"/>
<rect x="1823" y="1184" width="11" height="17"/>
<rect x="1840" y="1126" width="11" height="15"/>
<rect x="1857" y="1143" width="11" height="13"/>
<rect x="1874" y="1071" width="11" height="6"/>
<rect x="1892" y="1010" width="11" height="2"/>
<rect x="1909" y="1022" width="11" height="3"/>
<rect x="1926" y="1023" width="11" height="1"/>
<rect x="1943" y="667" width="11" height="4"/>
<rect x="1960" y="639" width="11" height="11"/>
<rect x="1978" y="643" width="11" height="9"/>
<rect x="1995" y="640" width="11" height="10"/>
<rect x="2012" y="638" width="11" height="13"/>
<rect x="2029" y="619" width="11" height="20"/>
<rect x="2046" y="594" width="11" height="27"/>
<rect x="2064" y="582" width="11" height="25"/>
<rect x="2081" y="588" width="11" height="28"/>
<rect x="2098" y="593" width="11" height="30"/>
<rect x="2115" y="587" width="11" height="31"/>
<rect x="2132" y="615" width="11" height="29"/>
<rect x="2150" y="608" width="11" height="24"/>
<rect x="2167" y="601" width="11" height="31"/>
<rect x="2184" y="598" width="11" height="32"/>
<rect x="2201" y="601" width="11" height="30"/>
<rect x="2218" y="617" width="11" height="27"/>
<rect x="2235" y="609" width="11" height="28"/>
<rect x="2253" y="606" width="11" height="27"/>
<rect x="2270" y="610" width="11" height="19"/>
<rect x="2287" y="619" width="11" height="17"/>
<rect x="2304" y="605" width="11" height="13"/>
<rect x="2321" y="586" width="11" height="14"/>
<rect x="2339" y="573" width="11" height="22"/>
<rect x="2356" y="575" width="11" height="28"/>
<rect x="2373" y="572" width="11" height="19"/>
<rect x="2390" y="559" width="11" height="19"/>
<rect x="2407" y="540" width="11" height="22"/>
<rect x="2425" y="546" width="11" height="19"/>
<rect x="2442" y="536" width="11" height="21"/>
<rect x="2459" y="522" width="11" height="26"/>
<rect x="2476" y="518" width="11" height="29"/>
<rect x="2493" y="522" width="11" height="26"/>
<rect x="2510" y="520" width="11" height="29"/>
<rect x="2528" y="525" width="11" height="26"/>
<rect x="2545" y="518" width="11" height="31"/>
<rect x="2562" y="515" width="11" height="37"/>
<rect x="2579" y="560" width="11" height="28"/>
<rect x="2596" y="570" width="11" height="27"/>
<rect x="2614" y="598" width="11" height="18"/>
<rect x="2631" y="1347" width="11" height="3"/>
<rect x="2648" y="1431" width="11" height="16"/>
<rect x="2665" y="1462" width="11" height="13"/>
<rect x="2682" y="1450" width="11" height="10"/>
<rect x="2700" y="1453" width="11" height="14"/>
<rect x="2717" y="1387" width="11" height="10"/>
<rect x="2734" y="1348" width="11" height="6"/>
<rect x="2768" y="1285" width="11" height="1"/>
<rect x="2785" y="1258" width="11" height="3"/>
<rect x="2803" y="617" width="11" height="3"/>
<rect x="2820" y="600" width="11" height="5"/>
<rect x="2837" y="615" width="11" height="5"/>
<rect x="2854" y="584" width="11" height="7"/>
<rect x="2871" y="558" width="11" height="12"/>
<rect x="2889" y="546" width="11" height="22"/>
<rect x="2906" y="566" width="11" height="20"/>
<rect x="2923" y="585" width="11" height="11"/>
<rect x="2940" y="572" width="11" height="13"/>
<rect x="2957" y="550" width="11" height="21"/>
<rect x="2975" y="545" width="11" height="18"/>
<rect x="2992" y="536" width="11" height="14"/>
<rect x="3009" y="515" width="11" height="27"/>
<rect x="3026" y="506" width="11" height="27"/>
<rect x="3043" y="510" width="11" height="27"/>
<rect x="3061" y="497" width="11" height="30"/>
<rect x="3078" y="490" width="11" height="32"/>
<rect x="3095" y="494" width="11" height="37"/>
<rect x="3112" y="481" width="11" height="37"/>
<rect x="3129" y="489" width="11" height="35"/>
<rect x="3146" y="509" width="11" height="34"/>
<rect x="3164" y="490" width="11" height="38"/>
<rect x="3181" y="466" width="11" height="43"/>
<rect x="3198" y="468" width="11" height="39"/>
<rect x="3215" y="477" width="11" height="35"/>
<rect x="3232" y="499" width="11" height="27"/>
<rect x="3250" y="494" width="11" height="35"/>
<rect x="3267" y="475" width="11" height="42"/>
<rect x="3284" y="469" width="11" height="41"/>
<rect x="3301" y="439" width="11" height="46"/>
<rect x="3318" y="435" width="11" height="48"/>
<rect x="3336" y="440" width="11" height="49"/>
<rect x="3353" y="432" width="11" height="48"/>
<rect x="3370" y="467" width="11" height="43"/>
<rect x="3387" y="455" width="11" height="46"/>
<rect x="3404" y="450" width="11" height="47"/>
<rect x="3421" y="452" width="11" height="50"/>
<rect x="3439" y="440" width="11" height="52"/>
<rect x="3456" y="442" width="11" height="51"/>
<rect x="3473" y="445" width="11" height="52"/>
<rect x="3490" y="450" width="11" height="49"/>
<rect x="3507" y="437" width="11" height="51"/>
<rect x="3525" y="435" width="11" height="48"/>
<rect x="3542" y="349" width="11" height="43"/>
<rect x="3559" y="349" width="11" height="41"/>
<rect x="3576" y="286" width="11" height="39"/>
<rect x="3593" y="334" width="11" height="35"/>
<rect x="3611" y="350" width="11" height="34"/>
<rect x="3628" y="248" width="11" height="41"/>
<rect x="3645" y="216" width="11" height="46"/>
<rect x="3662" y="243" width="11" height="46"/>
<rect x="3679" y="282" width="11" height="41"/>
</g>
<g fill="#cc5a1a">
<rect x="293" y="632" width="11" height="8"/>
<rect x="310" y="695" width="11" height="2"/>
<rect x="327" y="542" width="11" height="5"/>
<rect x="362" y="879" width="11" height="3"/>
<rect x="379" y="851" width="11" height="1"/>
<rect x="396" y="746" width="11" height="4"/>
<rect x="413" y="760" width="11" height="2"/>
<rect x="431" y="764" width="11" height="1"/>
<rect x="448" y="764" width="11" height="1"/>
<rect x="465" y="1012" width="11" height="3"/>
<rect x="482" y="1058" width="11" height="8"/>
<rect x="517" y="1019" width="11" height="3"/>
<rect x="534" y="1047" width="11" height="2"/>
<rect x="551" y="1059" width="11" height="2"/>
<rect x="568" y="1089" width="11" height="2"/>
<rect x="602" y="1033" width="11" height="1"/>
<rect x="620" y="1052" width="11" height="2"/>
<rect x="637" y="1037" width="11" height="1"/>
<rect x="654" y="1104" width="11" height="5"/>
<rect x="671" y="1137" width="11" height="10"/>
<rect x="688" y="978" width="11" height="2"/>
<rect x="706" y="731" width="11" height="2"/>
<rect x="706" y="829" width="11" height="1"/>
<rect x="723" y="809" width="11" height="1"/>
<rect x="740" y="844" width="11" height="2"/>
<rect x="757" y="913" width="11" height="4"/>
<rect x="774" y="811" width="11" height="1"/>
<rect x="792" y="853" width="11" height="3"/>
<rect x="809" y="853" width="11" height="2"/>
<rect x="826" y="720" width="11" height="1"/>
<rect x="860" y="721" width="11" height="1"/>
<rect x="878" y="796" width="11" height="2"/>
<rect x="895" y="716" width="11" height="1"/>
<rect x="912" y="678" width="11" height="3"/>
<rect x="929" y="642" width="11" height="6"/>
<rect x="946" y="533" width="11" height="8"/>
<rect x="963" y="622" width="11" height="8"/>
<rect x="981" y="618" width="11" height="8"/>
<rect x="998" y="673" width="11" height="10"/>
<rect x="1015" y="596" width="11" height="9"/>
<rect x="1032" y="598" width="11" height="5"/>
<rect x="1049" y="681" width="11" height="5"/>
<rect x="1067" y="531" width="11" height="10"/>
<rect x="1084" y="488" width="11" height="10"/>
<rect x="1101" y="526" width="11" height="8"/>
<rect x="1118" y="792" width="11" height="4"/>
<rect x="1135" y="841" width="11" height="9"/>
<rect x="1153" y="830" width="11" height="8"/>
<rect x="1170" y="765" width="11" height="1"/>
<rect x="1187" y="667" width="11" height="3"/>
<rect x="1204" y="709" width="11" height="2"/>
<rect x="1221" y="748" width="11" height="1"/>
<rect x="1238" y="885" width="11" height="1"/>
<rect x="1273" y="1035" width="11" height="7"/>
<rect x="1290" y="901" width="11" height="5"/>
<rect x="1307" y="912" width="11" height="5"/>
<rect x="1324" y="980" width="11" height="2"/>
<rect x="1342" y="955" width="11" height="3"/>
<rect x="1359" y="1044" width="11" height="8"/>
<rect x="1376" y="999" width="11" height="7"/>
<rect x="1393" y="1030" width="11" height="8"/>
<rect x="1410" y="1131" width="11" height="12"/>
<rect x="1428" y="1075" width="11" height="13"/>
<rect x="1445" y="1065" width="11" height="14"/>
<rect x="1462" y="1050" width="11" height="14"/>
<rect x="1479" y="969" width="11" height="9"/>
<rect x="1496" y="1049" width="11" height="14"/>
<rect x="1514" y="1119" width="11" height="19"/>
<rect x="1531" y="1199" width="11" height="24"/>
<rect x="1548" y="1154" width="11" height="21"/>
<rect x="1565" y="1054" width="11" height="17"/>
<rect x="1582" y="1111" width="11" height="18"/>
<rect x="1599" y="1102" width="11" height="17"/>
<rect x="1617" y="1125" width="11" height="20"/>
<rect x="1634" y="1098" width="11" height="20"/>
<rect x="1651" y="1159" width="11" height="24"/>
<rect x="1668" y="1101" width="11" height="22"/>
<rect x="1685" y="1168" width="11" height="23"/>
<rect x="1703" y="1140" width="11" height="17"/>
<rect x="1720" y="1183" width="11" height="22"/>
<rect x="1737" y="1125" width="11" height="19"/>
<rect x="1754" y="1111" width="11" height="20"/>
<rect x="1771" y="1190" width="11" height="24"/>
<rect x="1789" y="1149" width="11" height="24"/>
<rect x="1806" y="1181" width="11" height="22"/>
<rect x="1823" y="1201" width="11" height="23"/>
<rect x="1840" y="1141" width="11" height="21"/>
<rect x="1857" y="1156" width="11" height="24"/>
<rect x="1874" y="1077" width="11" height="20"/>
<rect x="1892" y="1012" width="11" height="18"/>
<rect x="1909" y="1025" width="11" height="19"/>
<rect x="1926" y="1024" width="11" height="18"/>
<rect x="1943" y="976" width="11" height="17"/>
<rect x="1960" y="921" width="11" height="13"/>
<rect x="1978" y="939" width="11" height="13"/>
<rect x="1995" y="946" width="11" height="17"/>
<rect x="2012" y="930" width="11" height="16"/>
<rect x="2029" y="901" width="11" height="14"/>
<rect x="2046" y="867" width="11" height="13"/>
<rect x="2064" y="846" width="11" height="10"/>
<rect x="2081" y="851" width="11" height="12"/>
<rect x="2098" y="878" width="11" height="14"/>
<rect x="2115" y="824" width="11" height="7"/>
<rect x="2132" y="902" width="11" height="11"/>
<rect x="2150" y="897" width="11" height="12"/>
<rect x="2167" y="874" width="11" height="13"/>
<rect x="2184" y="860" width="11" height="11"/>
<rect x="2201" y="889" width="11" height="11"/>
<rect x="2218" y="955" width="11" height="14"/>
<rect x="2235" y="956" width="11" height="15"/>
<rect x="2253" y="930" width="11" height="11"/>
<rect x="2270" y="1003" width="11" height="13"/>
<rect x="2287" y="1064" width="11" height="18"/>
<rect x="2304" y="1123" width="11" height="20"/>
<rect x="2321" y="1152" width="11" height="19"/>
<rect x="2339" y="1146" width="11" height="18"/>
<rect x="2356" y="1113" width="11" height="17"/>
<rect x="2373" y="1166" width="11" height="19"/>
<rect x="2390" y="1173" width="11" height="18"/>
<rect x="2407" y="1100" width="11" height="17"/>
<rect x="2425" y="1126" width="11" height="20"/>
<rect x="2442" y="1165" width="11" height="19"/>
<rect x="2459" y="1091" width="11" height="18"/>
<rect x="2476" y="1085" width="11" height="18"/>
<rect x="2493" y="1119" width="11" height="20"/>
<rect x="2510" y="1112" width="11" height="19"/>
<rect x="2528" y="1116" width="11" height="19"/>
<rect x="2545" y="1085" width="11" height="18"/>
<rect x="2562" y="1068" width="11" height="19"/>
<rect x="2579" y="1162" width="11" height="23"/>
<rect x="2596" y="1187" width="11" height="24"/>
<rect x="2614" y="1211" width="11" height="28"/>
<rect x="2631" y="1350" width="11" height="37"/>
<rect x="2648" y="1447" width="11" height="43"/>
<rect x="2665" y="1475" width="11" height="42"/>
<rect x="2682" y="1460" width="11" height="42"/>
<rect x="2700" y="1467" width="11" height="44"/>
<rect x="2717" y="1397" width="11" height="43"/>
<rect x="2734" y="1354" width="11" height="39"/>
<rect x="2751" y="1313" width="11" height="38"/>
<rect x="2768" y="1286" width="11" height="39"/>
<rect x="2785" y="1261" width="11" height="38"/>
<rect x="2803" y="1282" width="11" height="40"/>
<rect x="2820" y="1213" width="11" height="37"/>
<rect x="2837" y="1249" width="11" height="37"/>
<rect x="2854" y="1247" width="11" height="37"/>
<rect x="2871" y="1179" width="11" height="33"/>
<rect x="2889" y="1118" width="11" height="30"/>
<rect x="2906" y="1129" width="11" height="33"/>
<rect x="2923" y="1206" width="11" height="34"/>
<rect x="2940" y="1186" width="11" height="33"/>
<rect x="2957" y="1120" width="11" height="32"/>
<rect x="2975" y="1160" width="11" height="31"/>
<rect x="2992" y="1191" width="11" height="33"/>
<rect x="3009" y="1139" width="11" height="32"/>
<rect x="3026" y="1084" width="11" height="30"/>
<rect x="3043" y="1126" width="11" height="32"/>
<rect x="3061" y="1095" width="11" height="30"/>
<rect x="3078" y="1076" width="11" height="31"/>
<rect x="3095" y="1068" width="11" height="28"/>
<rect x="3112" y="1067" width="11" height="29"/>
<rect x="3129" y="1031" width="11" height="29"/>
<rect x="3146" y="1028" width="11" height="30"/>
<rect x="3164" y="1008" width="11" height="28"/>
<rect x="3181" y="963" width="11" height="27"/>
<rect x="3198" y="974" width="11" height="27"/>
<rect x="3215" y="1002" width="11" height="29"/>
<rect x="3232" y="1102" width="11" height="31"/>
<rect x="3250" y="1024" width="11" height="27"/>
<rect x="3267" y="965" width="11" height="26"/>
<rect x="3284" y="963" width="11" height="26"/>
<rect x="3301" y="887" width="11" height="24"/>
<rect x="3318" y="875" width="11" height="21"/>
<rect x="3336" y="860" width="11" height="21"/>
<rect x="3353" y="872" width="11" height="21"/>
<rect x="3370" y="913" width="11" height="22"/>
<rect x="3387" y="881" width="11" height="21"/>
<rect x="3404" y="904" width="11" height="22"/>
<rect x="3421" y="832" width="11" height="20"/>
<rect x="3439" y="827" width="11" height="18"/>
<rect x="3456" y="835" width="11" height="18"/>
<rect x="3473" y="856" width="11" height="17"/>
<rect x="3490" y="882" width="11" height="20"/>
<rect x="3507" y="814" width="11" height="14"/>
<rect x="3525" y="806" width="11" height="13"/>
<rect x="3542" y="801" width="11" height="8"/>
<rect x="3559" y="793" width="11" height="8"/>
<rect x="3576" y="788" width="11" height="4"/>
<rect x="3593" y="799" width="11" height="5"/>
<rect x="3611" y="792" width="11" height="7"/>
<rect x="3628" y="781" width="11" height="4"/>
<rect x="3645" y="772" width="11" height="2"/>
<rect x="3662" y="780" width="11" height="4"/>
<rect x="3679" y="786" width="11" height="7"/>
</g>
<polyline points="281.4,764.8 298.6,598.4 315.8,643.2 333.0,513.9 350.2,689.5 367.3,843.9 384.5,806.6 401.7,813.3 418.9,964.7 436.1,973.0 453.3,973.9 470.5,942.8 487.7,946.8 504.9,993.3 522.0,1004.5 539.2,983.6 556.4,1023.6 573.6,1064.2 590.8,1029.1 608.0,1015.7 625.2,961.3 642.4,987.9 659.6,1131.1 676.7,1004.0 693.9,865.2 711.1,743.7 728.3,773.2 745.5,778.2 762.7,807.5 779.9,742.1 797.1,786.5 814.3,805.8 831.4,695.7 848.6,705.1 865.8,705.1 883.0,705.1 900.2,650.2 917.4,587.5 934.6,584.2 951.8,487.1 969.0,573.3 986.1,542.3 1003.3,604.2 1020.5,516.1 1037.7,589.2 1054.9,627.1 1072.1,421.9 1089.3,413.6 1106.5,467.1 1123.7,587.5 1140.8,746.7 1158.0,746.7 1175.2,577.5 1192.4,615.3 1209.6,714.6 1226.8,798.8 1244.0,799.9 1261.2,948.8 1278.4,920.4 1295.6,825.7 1312.7,868.5 1329.9,935.9 1347.1,903.6 1364.3,983.2 1381.5,924.0 1398.7,993.3 1415.9,1072.1 1433.1,1031.7 1450.3,1033.1 1467.4,999.0 1484.6,911.5 1501.8,968.9 1519.0,1074.2 1536.2,1164.6 1553.4,1075.9 1570.6,989.8 1587.8,1046.8 1605.0,1010.2 1622.1,1031.7 1639.3,1034.8 1656.5,1110.9 1673.7,1028.9 1690.9,1092.0 1708.1,1082.9 1725.3,1060.2 1742.5,982.2 1759.7,1009.5 1776.8,1111.4 1794.0,1104.0 1811.2,1133.3 1828.4,1100.0 1845.6,1069.9 1862.8,1088.3 1880.0,993.1 1897.2,896.6 1914.4,935.4 1931.5,914.5 1948.7,864.0 1965.9,751.4 1983.1,810.5 2000.3,810.5 2017.5,766.5 2034.7,697.9 2051.9,643.5 2069.1,648.2 2086.2,641.5 2103.4,653.9 2120.6,630.0 2137.8,753.6 2155.0,682.3 2172.2,682.3 2189.4,663.3 2206.6,666.8 2223.8,789.2 2240.9,749.7 2258.1,740.2 2275.3,789.9 2292.5,851.8 2309.7,985.6 2326.9,966.9 2344.1,920.9 2361.3,918.8 2378.5,993.9 2395.6,923.7 2412.8,861.8 2430.0,892.6 2447.2,925.9 2464.4,858.5 2481.6,794.4 2498.8,855.8 2516.0,848.4 2533.2,838.7 2550.3,788.6 2567.5,833.4 2584.7,962.7 2601.9,1005.2 2619.1,1049.1 2636.3,1246.5 2653.5,1364.9 2670.7,1344.9 2687.9,1354.2 2705.0,1338.3 2722.2,1282.1 2739.4,1182.9 2756.6,1155.7 2773.8,1111.4 2791.0,1110.5 2808.2,1184.6 2825.4,1043.8 2842.6,1066.5 2859.8,1028.4 2876.9,961.3 2894.1,912.8 2911.3,918.8 2928.5,1002.3 2945.7,997.0 2962.9,921.7 2980.1,925.7 2997.3,922.0 3014.5,871.8 3031.6,812.8 3048.8,810.0 3066.0,776.5 3083.2,752.8 3100.4,781.5 3117.6,796.4 3134.8,754.8 3152.0,775.0 3169.2,684.0 3186.3,669.8 3203.5,673.1 3220.7,749.7 3237.9,818.3 3255.1,740.2 3272.3,643.7 3289.5,643.7 3306.7,549.9 3323.9,542.8 3341.0,510.2 3358.2,508.9 3375.4,589.7 3392.6,567.6 3409.8,557.1 3427.0,457.7 3444.2,469.9 3461.4,488.8 3478.6,494.2 3495.7,500.5 3512.9,462.1 3530.1,424.8 3547.3,359.0 3564.5,322.1 3581.7,251.6 3598.9,323.4 3616.1,323.4 3633.3,215.2 3650.4,198.1 3667.6,228.9 3684.8,296.5" fill="none" stroke="#e60000" stroke-width="12" stroke-linejoin="bevel" shape-rendering="geometricPrecision"/>
<g font-family="Liberation Sans, Arial, sans-serif" font-size="69" fill="#000" text-rendering="geometricPrecision">
<text x="202" y="1624.4" text-anchor="end">-5</text>
<text x="202" y="1457.1" text-anchor="end">-4</text>
<text x="202" y="1289.9" text-anchor="end">-3</text>
<text x="202" y="1122.6" text-anchor="end">-2</text>
<text x="202" y="955.4" text-anchor="end">-1</text>
<text x="202" y="788.1" text-anchor="end">0</text>
<text x="202" y="620.8" text-anchor="end">1</text>
<text x="202" y="453.6" text-anchor="end">2</text>
<text x="202" y="286.3" text-anchor="end">3</text>
<text x="202" y="119.1" text-anchor="end">4</text>
<text x="461.8" y="1754" text-anchor="middle">Jan</text>
<text x="822.7" y="1754" text-anchor="middle">Feb</text>
<text x="1192.3" y="1754" text-anchor="middle">Mar</text>
<text x="1561.9" y="1754" text-anchor="middle">Apr</text>
<text x="1931.4" y="1754" text-anchor="middle">May</text>
<text x="2318.2" y="1754" text-anchor="middle">Jun</text>
<text x="2687.8" y="1754" text-anchor="middle">Jul</text>
<text x="3065.9" y="1754" text-anchor="middle">Aug</text>
<text x="3444.1" y="1754" text-anchor="middle">Sep</text>
<text x="1984" y="1845" text-anchor="middle">2023</text>
<text transform="translate(113.5,850) rotate(-90)" text-anchor="middle">percent</text>
<rect x="63" y="1962.5" width="93.5" height="13" fill="#e60000"/>
<text x="175" y="1991">U.S. Dollar Index</text>
<rect x="728" y="1944.5" width="50" height="49.5" fill="#73998a"/>
<text x="796" y="1991">SEK per USD</text>
<rect x="1257" y="1944.5" width="50" height="49.5" fill="#000000"/>
<text x="1325" y="1991">GBP per USD</text>
<rect x="1785" y="1944.5" width="50" height="49.5" fill="#6566b5"/>
<text x="1851" y="1991">EUR per USD</text>
<rect x="85" y="2048" width="50" height="49.5" fill="#cc5a1a"/>
<text x="175" y="2095">CHF per USD</text>
<rect x="728" y="2048" width="50" height="49.5" fill="#d69d00"/>
<text x="796" y="2095">CAD per USD</text>
<rect x="1257" y="2048" width="50" height="49.5" fill="#595959"/>
<text x="1327" y="2095">JPY per USD</text>
</g>
</svg>
</body></html>
